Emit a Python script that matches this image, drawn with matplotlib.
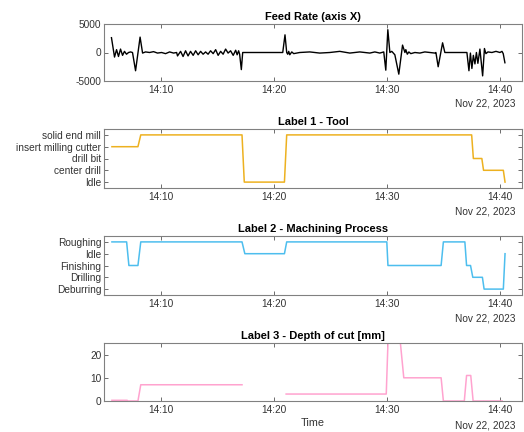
import matplotlib
matplotlib.use("Agg")
import matplotlib.pyplot as plt
import matplotlib.dates as mdates
import numpy as np
from datetime import datetime, timedelta

plt.rcParams['font.family'] = ['Liberation Sans', 'DejaVu Sans']
plt.rcParams['axes.unicode_minus'] = False

BASE = datetime(2023, 11, 22, 14, 0, 0)

# ---- Feed rate (minutes after 14:00, value) ----
feed_min = [5.66, 5.93, 6.11, 6.28, 6.46, 6.64, 6.81, 6.99, 7.17, 7.35, 7.52,
            7.79, 8.19, 8.41, 8.67, 9.03, 9.38, 9.73, 10.09, 10.44, 10.80, 11.15, 11.42,
            11.50, 11.77, 11.99, 12.21, 12.43, 12.65, 12.88, 13.10, 13.32, 13.54, 13.76, 13.98, 14.20, 14.42,
            14.65, 14.87, 15.09, 15.31, 15.53, 15.75, 15.97, 16.19, 16.42, 16.64, 16.77, 16.90, 16.99,
            17.14, 17.26, 20.80, 21.00, 21.15, 21.24, 21.33, 21.42, 21.60, 21.77,
            22.30, 23.19, 24.07, 24.96, 25.84, 26.73, 27.61, 28.50, 28.94, 29.38, 29.73,
            29.91, 30.09, 30.27, 30.44, 30.71, 31.06, 31.39, 31.60, 31.68, 31.81, 31.95, 32.12,
            32.48, 32.92, 33.36, 33.81, 34.25, 34.34, 34.54, 34.93, 35.13, 37.08,
            37.26, 37.39, 37.52, 37.65, 37.79, 37.92, 38.05, 38.23, 38.47, 38.63, 38.76, 38.94,
            39.29, 39.65, 40.00, 40.18, 40.29, 40.44]
feed_val = [2600, -800, 500, -700, 600, -500, 200, -300, 0, 100, 0,
            -3200, 2700, -100, 100, 0, 150, -100, 0, -200, 100, -100, 0,
            -600, 200, -700, 300, -600, 200, -500, 300, -400, 200, -300, 100, -300, 300,
            -200, 500, -500, 200, -300, 600, -100, 300, -500, 400, -400, 300, -300,
            -3000, 0, 0, 3100, 0, -300, 200, -400, 100, -200,
            0, 100, -100, 0, 200, -100, 100, -100, 100, -100, 100,
            -3100, 4000, 0, 200, -400, -3800, 1300, 0, 500, -300, 100, -200,
            0, -100, 100, 0, -100, 0, -2500, 1700, 0, 0,
            -3200, -100, -2800, -500, -2000, 0, -1900, 600, -4100, 700, -200, 100,
            0, 200, 0, 200, -200, -1800]

# ---- Label 1 - Tool ----
tool_labels = ['Idle', 'center drill', 'drill bit', 'insert milling cutter', 'solid end mill']
tool_min = [5.70, 8.00, 8.25, 17.20, 17.40, 20.95, 21.15, 37.50, 37.65, 38.40, 38.55, 40.30, 40.45]
tool_val = [3, 3, 4, 4, 0, 0, 4, 4, 2, 2, 1, 1, 0]

# ---- Label 2 - Machining Process ----
proc_labels = ['Deburring', 'Drilling', 'Finishing', 'Idle', 'Roughing']
proc_min = [5.70, 7.00, 7.20, 8.00, 8.25, 17.20, 17.45, 20.95, 21.15, 30.00, 30.10, 34.80, 35.00,
            36.90, 37.05, 37.40, 37.60, 38.45, 38.60, 40.30, 40.45]
proc_val = [4, 4, 2, 2, 4, 4, 3, 3, 4, 4, 2, 2, 4, 4, 2, 2, 1, 1, 0, 0, 3]

# ---- Label 3 - Depth of cut [mm] (nan = gap) ----
depth_min = [5.70, 7.05, 7.06, 8.00, 8.25, 17.20, 17.21, 21.10, 29.95, 30.10, 31.20, 31.50, 34.80, 35.00,
             36.85, 37.05, 37.42, 37.63, 38.52, 38.53, 38.65, 40.20]
depth_val = [0.3, 0.3, 0, 0, 7, 7, np.nan, 3, 3, 25, 25, 10, 10, 0,
             0, 11, 11, 0, 0, np.nan, 0, 0]

feed_t = [BASE + timedelta(minutes=m) for m in feed_min]
tool_t = [BASE + timedelta(minutes=m) for m in tool_min]
proc_t = [BASE + timedelta(minutes=m) for m in proc_min]
depth_t = [BASE + timedelta(minutes=m) for m in depth_min]

W, H = 524, 432
fig = plt.figure(figsize=(W / 100, H / 100), dpi=100)

def px_axes(top, bottom, left=104, right=522):
    return fig.add_axes([left / W, (H - bottom) / H, (right - left) / W, (bottom - top) / H])

ax1 = px_axes(24, 81)
ax2 = px_axes(129, 188)
ax3 = px_axes(236, 295)
ax4 = px_axes(343, 401)

xmin = BASE + timedelta(minutes=5.0)
xmax = BASE + timedelta(minutes=41.95)
tick_times = [BASE + timedelta(minutes=m) for m in (10, 20, 30, 40)]

TFS = 7.3
for ax in (ax1, ax2, ax3, ax4):
    ax.set_xlim(xmin, xmax)
    ax.set_xticks(tick_times)
    ax.xaxis.set_major_formatter(mdates.DateFormatter('%H:%M'))
    ax.tick_params(direction='in', length=3, width=0.6, color='#555555', labelsize=TFS,
                   labelcolor='#333333', top=True, right=True, pad=3)
    ax.tick_params(axis='y', pad=2)
    for s in ax.spines.values():
        s.set_color('#808080')
        s.set_linewidth(0.8)
    ax.text(0.985, -0.40 if ax is not ax4 else -0.43, 'Nov 22, 2023', transform=ax.transAxes,
            ha='right', va='center', fontsize=TFS, color='#333333')

ax1.plot(feed_t, feed_val, color='black', lw=1.0)
ax1.set_ylim(-5000, 5000)
ax1.set_yticks([-5000, 0, 5000])
ax1.set_title('Feed Rate (axis X)', fontsize=8, fontweight='bold', pad=3)

ax2.plot(tool_t, tool_val, color='#EDB120', lw=1.1)
ax2.set_ylim(-0.5, 4.5)
ax2.set_yticks(range(len(tool_labels)))
ax2.set_yticklabels(tool_labels)
ax2.set_title('Label 1 - Tool', fontsize=8, fontweight='bold', pad=3)

ax3.plot(proc_t, proc_val, color='#4DBEEE', lw=1.1)
ax3.set_ylim(-0.5, 4.5)
ax3.set_yticks(range(len(proc_labels)))
ax3.set_yticklabels(proc_labels)
ax3.set_title('Label 2 - Machining Process', fontsize=8, fontweight='bold', pad=3)

ax4.plot(depth_t, depth_val, color='#FFA3CF', lw=1.1)
ax4.set_ylim(0, 25)
ax4.set_yticks([0, 10, 20])
ax4.set_title('Label 3 - Depth of cut [mm]', fontsize=8, fontweight='bold', pad=3)
ax4.set_xlabel('Time', fontsize=TFS + 0.5, color='#333333', labelpad=2)

fig.savefig('out.png', dpi=100)
